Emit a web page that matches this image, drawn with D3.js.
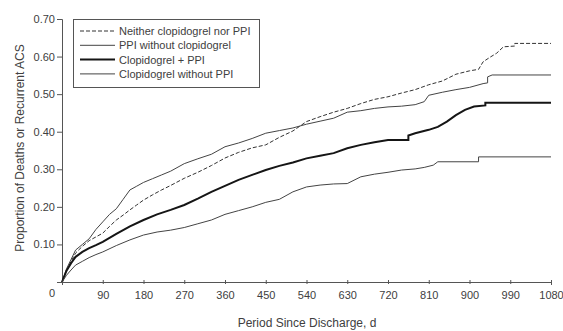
<!DOCTYPE html>
<html>
<head>
<meta charset="utf-8">
<script src="https://cdn.jsdelivr.net/npm/d3@7"></script>
<style>
  body { margin: 0; background: #fff; }
  svg { display: block; font-family: "Liberation Sans", Arial, sans-serif; }
</style>
</head>
<body>
<script>
// series readings (day, cumulative proportion); a repeated day marks a step
const seriesNames = ["Neither clopidogrel nor PPI", "PPI without clopidogrel", "Clopidogrel + PPI", "Clopidogrel without PPI"];

const neitherDays = [0,10,20,30,45,60,75,90,105,120,135,150,165,180,200,220,240,270,300,330,360,390,420,450,480,510,540,570,600,630,660,690,720,750,780,810,840,870,900,920,930,945,960,975,1000,1000,1080];
const neitherVals = [0,0.03,0.055,0.077,0.095,0.11,0.12,0.13,0.148,0.165,0.178,0.192,0.205,0.218,0.232,0.245,0.257,0.276,0.292,0.31,0.33,0.345,0.357,0.365,0.385,0.402,0.427,0.44,0.452,0.462,0.475,0.486,0.493,0.503,0.512,0.525,0.535,0.553,0.562,0.566,0.586,0.598,0.609,0.626,0.628,0.635,0.635];

const ppiDays = [0,10,20,30,45,60,75,90,105,120,135,150,165,180,200,220,240,270,300,330,360,390,420,450,480,510,540,570,600,630,660,690,720,750,780,800,810,840,870,900,930,940,940,950,1080];
const ppiVals = [0,0.035,0.06,0.085,0.1,0.115,0.14,0.16,0.18,0.195,0.22,0.245,0.255,0.265,0.275,0.285,0.295,0.315,0.328,0.34,0.36,0.37,0.382,0.396,0.403,0.41,0.42,0.428,0.436,0.452,0.456,0.462,0.466,0.468,0.472,0.48,0.497,0.505,0.512,0.518,0.528,0.53,0.546,0.551,0.551];

const clopPpiDays = [0,10,20,30,45,60,75,90,120,150,180,210,240,270,300,330,360,390,420,450,480,510,540,570,600,630,660,690,720,765,765,780,810,830,850,870,890,910,935,935,1080];
const clopPpiVals = [0,0.03,0.05,0.067,0.08,0.09,0.098,0.107,0.128,0.148,0.165,0.18,0.192,0.205,0.222,0.24,0.256,0.272,0.285,0.298,0.309,0.318,0.329,0.336,0.343,0.356,0.365,0.372,0.378,0.378,0.39,0.396,0.405,0.413,0.427,0.444,0.458,0.467,0.47,0.477,0.477];

const clopDays = [0,10,20,30,45,60,75,90,120,150,180,210,240,270,300,330,360,390,420,450,480,510,540,570,600,630,660,690,720,750,780,800,820,830,920,920,1080];
const clopVals = [0,0.018,0.032,0.045,0.055,0.065,0.073,0.08,0.097,0.112,0.125,0.133,0.138,0.145,0.155,0.165,0.18,0.19,0.2,0.212,0.22,0.24,0.253,0.258,0.261,0.262,0.28,0.287,0.292,0.298,0.301,0.305,0.311,0.32,0.32,0.333,0.333];

const xTicks = [90,180,270,360,450,540,630,720,810,900,990,1080];
const yTicks = [0.1,0.2,0.3,0.4,0.5,0.6,0.7];

const width = 563, height = 331;
const margin = {left: 62, right: 12, top: 19, bottom: 49};

const svg = d3.select("body").append("svg")
  .attr("width", width)
  .attr("height", height);

const x = d3.scaleLinear().domain([0, 1080]).range([margin.left, width - margin.right]);
const y = d3.scaleLinear().domain([0, 0.7]).range([height - margin.bottom, margin.top]);

const ink = "#404040";
const font = "'Liberation Sans', Arial, sans-serif";

// axes
const gx = svg.append("g")
  .attr("transform", `translate(0,${y(0)})`)
  .call(d3.axisBottom(x).tickValues(xTicks).tickFormat(d3.format("d")).tickSize(3).tickPadding(6));
const gy = svg.append("g")
  .attr("transform", `translate(${x(0)},0)`)
  .call(d3.axisLeft(y).tickValues(yTicks).tickSize(5).tickPadding(2).tickFormat(d3.format(".2f")));

[gx, gy].forEach(g => {
  g.select(".domain").attr("stroke", "#555");
  g.selectAll(".tick line").attr("stroke", "#555");
  g.selectAll(".tick text").attr("fill", ink).style("font-size", "11px").style("font-family", font);
});
gx.selectAll(".tick line").attr("y1", -2).attr("y2", 2);

svg.append("text")
  .attr("x", x(0) - 10).attr("y", y(0) + 15)
  .attr("text-anchor", "middle")
  .attr("fill", ink).style("font-size", "11px")
  .text("0");

// titles
svg.append("text")
  .attr("x", 307).attr("y", 327)
  .attr("text-anchor", "middle")
  .attr("fill", ink).style("font-size", "12px")
  .text("Period Since Discharge, d");
svg.append("text")
  .attr("transform", `translate(24,148) rotate(-90)`)
  .attr("text-anchor", "middle")
  .attr("fill", ink).style("font-size", "12px")
  .text("Proportion of Deaths or Recurrent ACS");

// curves
const styles = [
  {w: 1, dash: "4,2", color: "#333"},
  {w: 1, dash: null, color: "#444"},
  {w: 2, dash: null, color: "#151515"},
  {w: 1, dash: null, color: "#444"}
];
const series = [
  d3.zip(neitherDays, neitherVals),
  d3.zip(ppiDays, ppiVals),
  d3.zip(clopPpiDays, clopPpiVals),
  d3.zip(clopDays, clopVals)
];

const line = d3.line()
  .x(d => x(d[0]))
  .y(d => y(d[1]));

svg.append("g").selectAll("path")
  .data(series)
  .join("path")
  .attr("fill", "none")
  .attr("stroke", (d, i) => styles[i].color)
  .attr("stroke-width", (d, i) => styles[i].w)
  .attr("stroke-dasharray", (d, i) => styles[i].dash)
  .attr("d", line);

// legend
const lg = svg.append("g");
lg.append("rect")
  .attr("x", 73.5).attr("y", 19.5).attr("width", 186).attr("height", 68)
  .attr("fill", "#fff").attr("stroke", "#555");
seriesNames.forEach((name, i) => {
  const cy = 31 + i * 14.3;
  lg.append("line")
    .attr("x1", 80).attr("x2", 115).attr("y1", cy).attr("y2", cy)
    .attr("stroke", styles[i].color)
    .attr("stroke-width", styles[i].w)
    .attr("stroke-dasharray", styles[i].dash);
  lg.append("text")
    .attr("x", 119).attr("y", cy + 4)
    .attr("fill", ink).style("font-size", "11px")
    .text(name);
});
</script>
</body>
</html>
